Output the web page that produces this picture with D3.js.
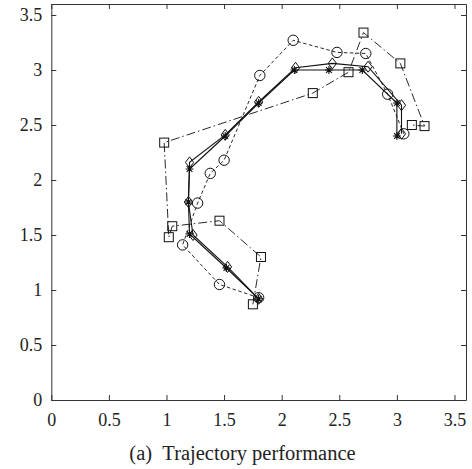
<!DOCTYPE html>
<html>
<head>
<meta charset="utf-8">
<script src="https://cdn.jsdelivr.net/npm/d3@7"></script>
<style>
  html, body { margin: 0; padding: 0; background: #fff; }
  text { font-family: "Liberation Serif", "DejaVu Serif", serif; fill: #222; }
</style>
</head>
<body>
<div id="board"></div>
<script>
// tick labels
const tickVals = [0, 0.5, 1, 1.5, 2, 2.5, 3, 3.5];
const titleText = "(a)\u2002Trajectory performance";

// series: solid with stars
const starX = [1.80, 1.52, 1.20, 1.19, 1.20, 1.51, 1.80, 2.11, 2.41, 2.70, 3.00, 3.00];
const starY = [0.92, 1.20, 1.51, 1.80, 2.10, 2.40, 2.70, 3.00, 3.00, 3.00, 2.70, 2.40];

// series: solid with diamonds
const diamondX = [1.80, 1.53, 1.23, 1.19, 1.20, 1.51, 1.80, 2.12, 2.44, 2.75, 3.04, 3.04];
const diamondY = [0.92, 1.21, 1.50, 1.80, 2.16, 2.41, 2.71, 3.02, 3.06, 3.03, 2.68, 2.42];

// series: dashed with circles
const circleX = [1.80, 1.46, 1.14, 1.27, 1.38, 1.50, 1.81, 2.10, 2.48, 2.73, 2.92, 3.06];
const circleY = [0.93, 1.05, 1.41, 1.79, 2.06, 2.18, 2.95, 3.27, 3.16, 3.15, 2.78, 2.42];

// series: dash-dot with squares
const squareX = [1.75, 1.82, 1.46, 1.05, 1.02, 0.98, 2.27, 2.58, 2.71, 3.03, 3.24, 3.13];
const squareY = [0.87, 1.30, 1.63, 1.58, 1.48, 2.34, 2.79, 2.98, 3.34, 3.06, 2.49, 2.50];

const width = 472;
const height = 469;
const marginTop = 4;
const marginRight = 6;
const marginBottom = 69;
const marginLeft = 51.3;

const x = d3.scaleLinear()
    .domain([0, 3.6])
    .range([marginLeft, width - marginRight]);

const y = d3.scaleLinear()
    .domain([0, 3.6])
    .range([height - marginBottom, marginTop]);

const svg = d3.create("svg")
    .attr("width", width)
    .attr("height", height);

const axisColor = "#333";
const tickFont = "18px";

// bottom axis
const gx = svg.append("g")
    .attr("transform", `translate(0,${y(0)})`)
    .call(d3.axisBottom(x).tickValues(tickVals).tickFormat(d3.format("")).tickSizeInner(-5).tickSizeOuter(0).tickPadding(13));

// left axis
const gy = svg.append("g")
    .attr("transform", `translate(${x(0)},0)`)
    .call(d3.axisLeft(y).tickValues(tickVals).tickFormat(d3.format("")).tickSizeInner(-5).tickSizeOuter(0).tickPadding(9));

// top and right (box)
const gt = svg.append("g")
    .attr("transform", `translate(0,${y(3.6)})`)
    .call(d3.axisTop(x).tickValues(tickVals).tickFormat("").tickSizeInner(-5).tickSizeOuter(0));

const gr = svg.append("g")
    .attr("transform", `translate(${x(3.6)},0)`)
    .call(d3.axisRight(y).tickValues(tickVals).tickFormat("").tickSizeInner(-5).tickSizeOuter(0));

[gx, gy, gt, gr].forEach(g => {
    g.select(".domain").attr("stroke", axisColor);
    g.selectAll(".tick line").attr("stroke", axisColor);
    g.selectAll("text").attr("font-family", null).style("font-size", tickFont).attr("fill", "#222");
});

const line = d3.line().x(d => x(d[0])).y(d => y(d[1]));
const plot = svg.append("g").attr("fill", "none").attr("stroke", "#111");

function drawSeries(xs, ys, dash, sw) {
    const pts = xs.map((v, i) => [v, ys[i]]);
    plot.append("path")
        .attr("d", line(pts))
        .attr("stroke-width", sw)
        .attr("stroke-dasharray", dash);
    return pts;
}

// lines
const sqPts = drawSeries(squareX, squareY, "9,3,1.5,3", 0.9);
const ciPts = drawSeries(circleX, circleY, "3.5,2.5", 0.9);
const diPts = drawSeries(diamondX, diamondY, null, 1.1);
const stPts = drawSeries(starX, starY, null, 1.1);

// markers
plot.selectAll(".sq").data(sqPts).enter().append("rect")
    .attr("x", d => x(d[0]) - 4.5)
    .attr("y", d => y(d[1]) - 4.5)
    .attr("width", 9)
    .attr("height", 9)
    .attr("stroke-width", 1);

plot.selectAll(".ci").data(ciPts).enter().append("circle")
    .attr("cx", d => x(d[0]))
    .attr("cy", d => y(d[1]))
    .attr("r", 5.2)
    .attr("stroke-width", 1);

plot.selectAll(".di").data(diPts).enter().append("path")
    .attr("d", d => {
        const cx = x(d[0]), cy = y(d[1]), r = 5.5;
        return `M${cx},${cy - r}L${cx + r * 0.75},${cy}L${cx},${cy + r}L${cx - r * 0.75},${cy}Z`;
    })
    .attr("stroke-width", 1);

plot.selectAll(".st").data(stPts).enter().append("path")
    .attr("d", d => {
        const cx = x(d[0]), cy = y(d[1]), r = 4, s = r * 0.72;
        return `M${cx - r},${cy}H${cx + r}M${cx},${cy - r}V${cy + r}` +
               `M${cx - s},${cy - s}L${cx + s},${cy + s}M${cx - s},${cy + s}L${cx + s},${cy - s}`;
    })
    .attr("stroke-width", 1.1);

// caption
svg.append("text")
    .attr("x", 242.5)
    .attr("y", 460)
    .attr("text-anchor", "middle")
    .style("font-size", "20.5px")
    .text(titleText);

document.getElementById("board").append(svg.node());
</script>
</body>
</html>
